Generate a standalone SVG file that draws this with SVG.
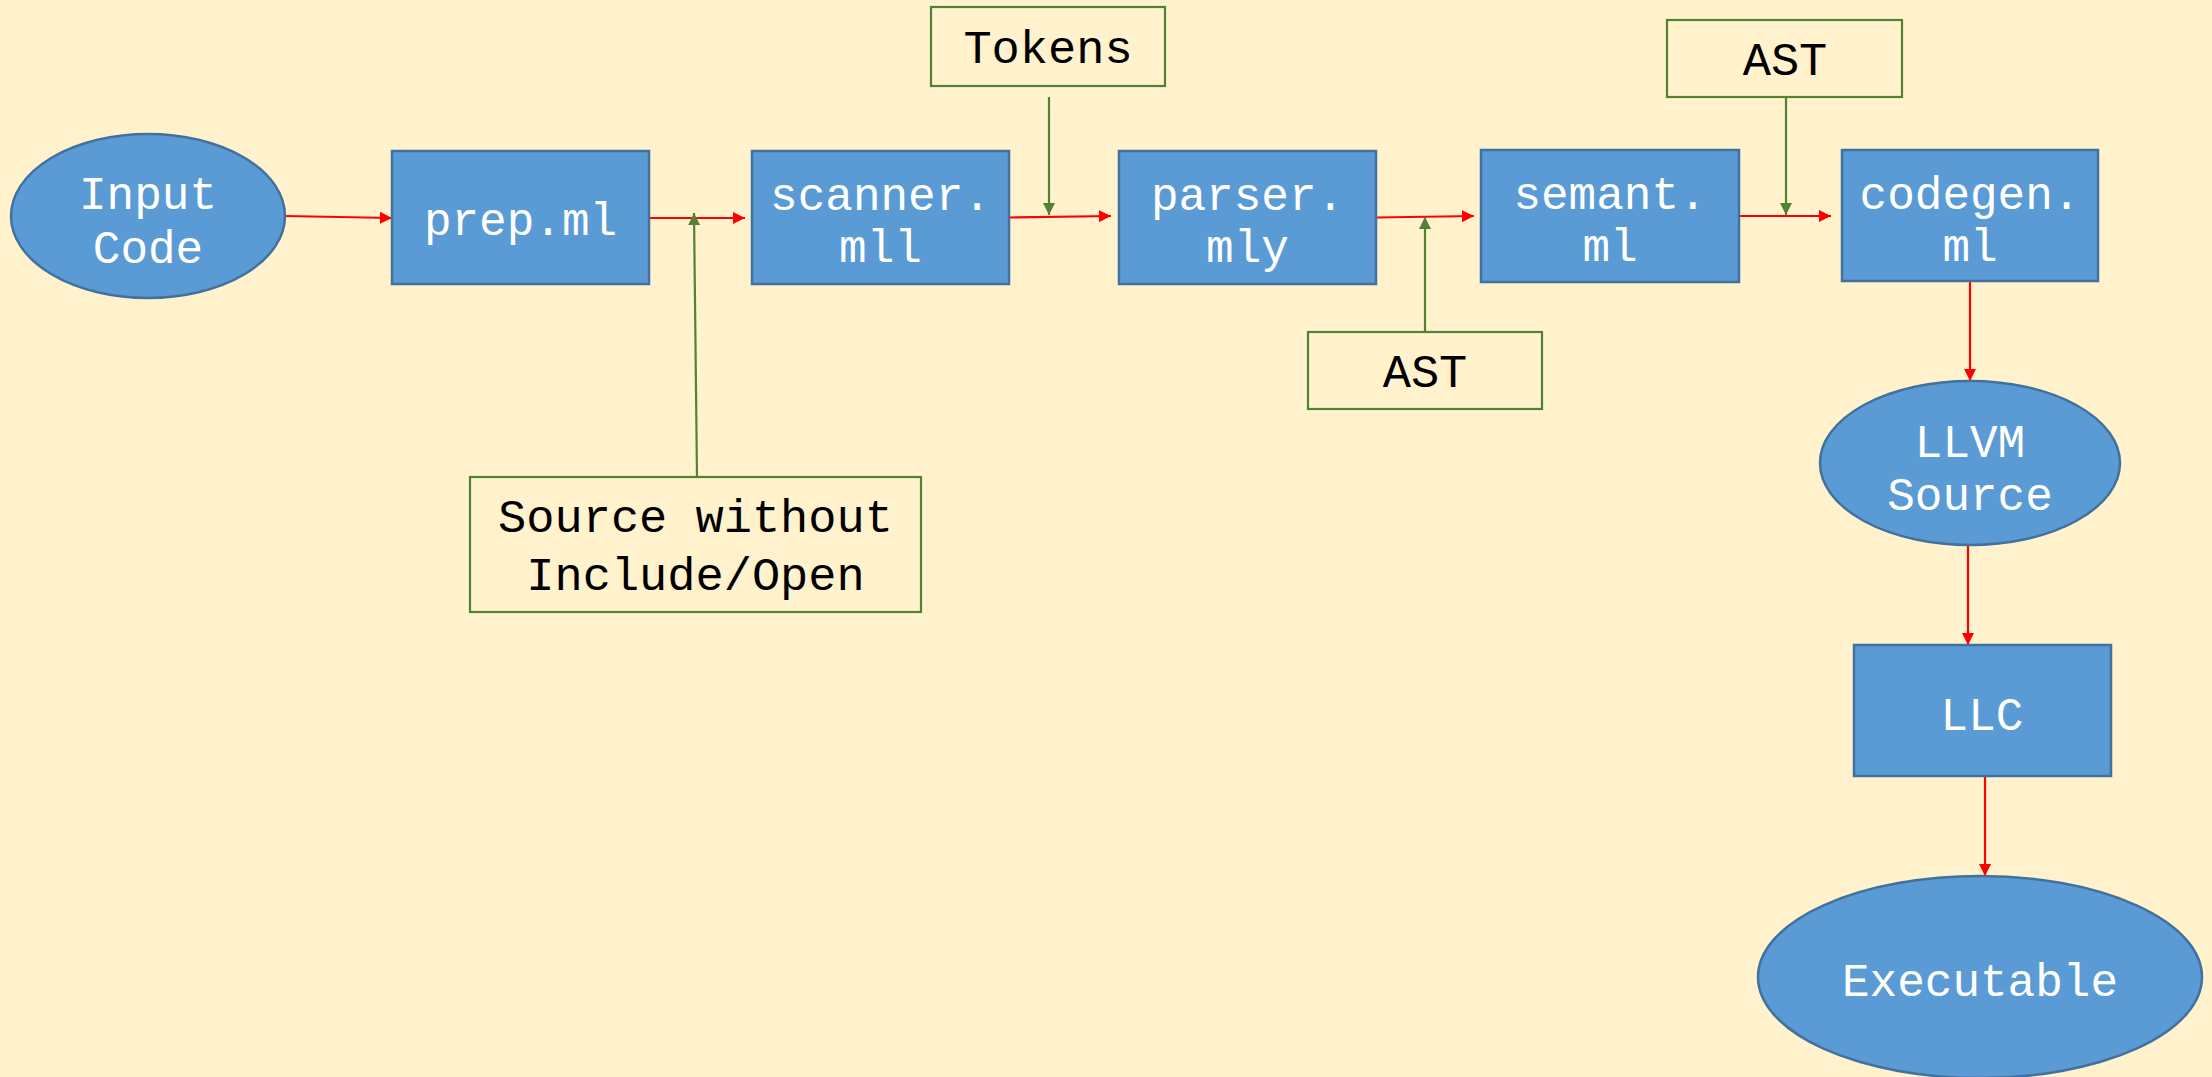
<svg xmlns="http://www.w3.org/2000/svg" width="2212" height="1077" viewBox="0 0 2212 1077">
  <defs>
    <style>
      .stage { fill: #5B9BD5; stroke: #41719C; stroke-width: 2.5; }
      .note { fill: #FFF2CC; stroke: #548235; stroke-width: 2.2; }
      .wt { font-family: "Liberation Mono", "Courier New", monospace; font-size: 46px; fill: #FFFFFF; text-anchor: middle; }
      .bt { font-family: "Liberation Mono", "Courier New", monospace; font-size: 47px; fill: #000000; text-anchor: middle; }
      .flow { stroke: #FF0000; stroke-width: 2.2; fill: none; marker-end: url(#redHead); }
      .feed { stroke: #548235; stroke-width: 2.2; fill: none; marker-end: url(#greenHead); }
    </style>
    <marker id="redHead" viewBox="0 0 10 10" refX="10" refY="5" markerWidth="5.5" markerHeight="5.5" orient="auto" markerUnits="strokeWidth">
      <path d="M0,0 L10,5 L0,10 Z" fill="#FF0000"/>
    </marker>
    <marker id="greenHead" viewBox="0 0 10 10" refX="10" refY="5" markerWidth="5.5" markerHeight="5.5" orient="auto" markerUnits="strokeWidth">
      <path d="M0,0 L10,5 L0,10 Z" fill="#548235"/>
    </marker>
  </defs>

  <!-- background -->
  <rect x="0" y="0" width="2212" height="1077" fill="#FFF2CC"/>

  <!-- connectors -->
  <g id="connectors">
    <path class="flow" d="M285,216 L392,218"/>
    <path class="flow" d="M649,218 L745,218"/>
    <path class="flow" d="M1009,217.5 L1111,216"/>
    <path class="flow" d="M1377,217.5 L1474,216"/>
    <path class="flow" d="M1739,216 L1831,216"/>
    <path class="flow" d="M1970,281 L1970,381"/>
    <path class="flow" d="M1968,545 L1968,645"/>
    <path class="flow" d="M1985,776 L1985,876"/>
    <path class="feed" d="M697,477 L694,213"/>
    <path class="feed" d="M1049,97 L1049,215"/>
    <path class="feed" d="M1425,332 L1425,217"/>
    <path class="feed" d="M1786,97 L1786,215"/>
  </g>

  <!-- pipeline stages -->
  <g id="input-code">
    <ellipse class="stage" cx="148" cy="216" rx="137" ry="82"/>
    <text class="wt" x="148" y="209">Input</text>
    <text class="wt" x="148" y="263">Code</text>
  </g>
  <g id="prep">
    <rect class="stage" x="392" y="151" width="257" height="133"/>
    <text class="wt" x="520.5" y="235">prep.ml</text>
  </g>
  <g id="scanner">
    <rect class="stage" x="752" y="151" width="257" height="133"/>
    <text class="wt" x="880.5" y="210">scanner.</text>
    <text class="wt" x="880.5" y="262">mll</text>
  </g>
  <g id="parser">
    <rect class="stage" x="1119" y="151" width="257" height="133"/>
    <text class="wt" x="1247.5" y="210">parser.</text>
    <text class="wt" x="1247.5" y="262">mly</text>
  </g>
  <g id="semant">
    <rect class="stage" x="1481" y="150" width="258" height="132"/>
    <text class="wt" x="1610" y="209">semant.</text>
    <text class="wt" x="1610" y="261">ml</text>
  </g>
  <g id="codegen">
    <rect class="stage" x="1842" y="150" width="256" height="131"/>
    <text class="wt" x="1970" y="209">codegen.</text>
    <text class="wt" x="1970" y="261">ml</text>
  </g>
  <g id="llvm-source">
    <ellipse class="stage" cx="1970" cy="463" rx="150" ry="82"/>
    <text class="wt" x="1970" y="457">LLVM</text>
    <text class="wt" x="1970" y="510">Source</text>
  </g>
  <g id="llc">
    <rect class="stage" x="1854" y="645" width="257" height="131"/>
    <text class="wt" x="1982" y="730">LLC</text>
  </g>
  <g id="executable">
    <ellipse class="stage" cx="1980" cy="977" rx="222" ry="101"/>
    <text class="wt" x="1980" y="996">Executable</text>
  </g>

  <!-- intermediate artefacts -->
  <g id="tokens">
    <rect class="note" x="931" y="7" width="234" height="79"/>
    <text class="bt" x="1048" y="63">Tokens</text>
  </g>
  <g id="ast-parser">
    <rect class="note" x="1308" y="332" width="234" height="77"/>
    <text class="bt" x="1425" y="387">AST</text>
  </g>
  <g id="ast-semant">
    <rect class="note" x="1667" y="20" width="235" height="77"/>
    <text class="bt" x="1785" y="75">AST</text>
  </g>
  <g id="source-clean">
    <rect class="note" x="470" y="477" width="451" height="135"/>
    <text class="bt" x="695.5" y="532">Source without</text>
    <text class="bt" x="695.5" y="590">Include/Open</text>
  </g>
</svg>
